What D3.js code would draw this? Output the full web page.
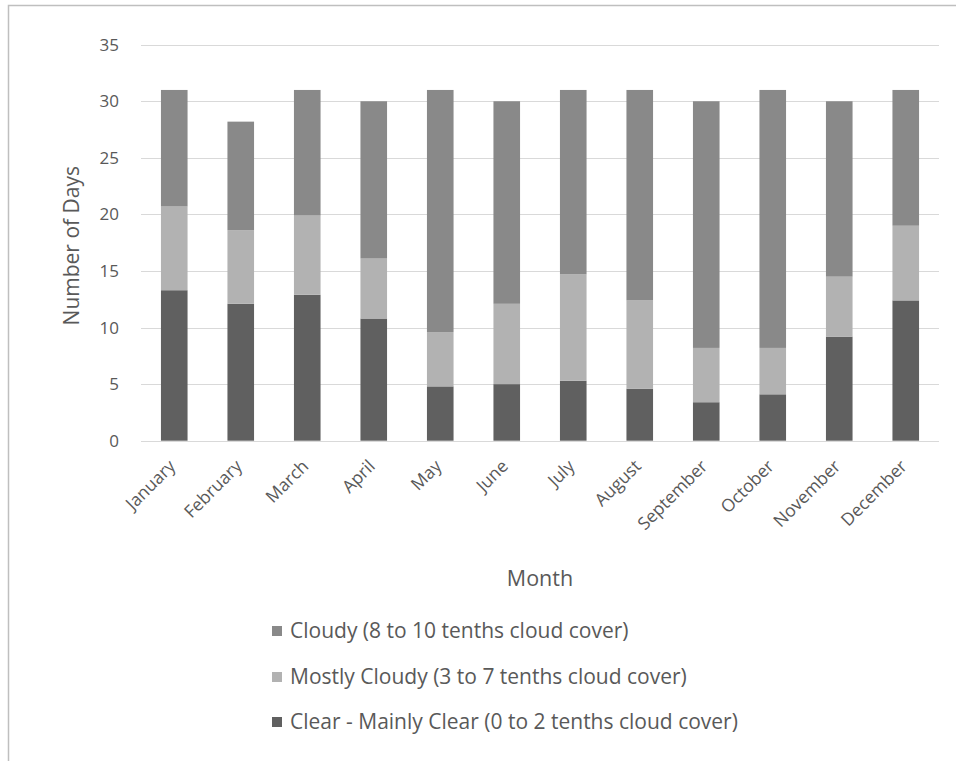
<!DOCTYPE html>
<html><head><meta charset="utf-8">
<script src="https://cdn.jsdelivr.net/npm/d3@7/dist/d3.min.js"></script>
<style>body{margin:0;background:#fff}svg{display:block}text{font-family:"Open Sans",Lato,sans-serif;fill:#595959}</style>
</head><body>
<svg id="c" width="956" height="761"></svg>
<script>
const months = ["January","February","March","April","May","June","July","August","September","October","November","December"];
const clear = [13.3, 12.1, 12.9, 10.8, 4.8, 5.0, 5.3, 4.6, 3.4, 4.1, 9.2, 12.4];
const mostlyCloudy = [7.4, 6.5, 7.0, 5.3, 4.8, 7.1, 9.4, 7.8, 4.8, 4.1, 5.3, 6.6];
const cloudy = [10.3, 9.6, 11.1, 13.9, 21.4, 17.9, 16.3, 18.6, 21.8, 22.8, 15.5, 12.0];
const seriesNames = ["Clear - Mainly Clear (0 to 2 tenths cloud cover)","Mostly Cloudy (3 to 7 tenths cloud cover)","Cloudy (8 to 10 tenths cloud cover)"];
const seriesColors = ["#606060","#b2b2b2","#898989"];
const yTicks = [0,5,10,15,20,25,30,35];

const svg = d3.select("#c");
// outer frame
svg.append("rect").attr("x",8.5).attr("y",5.5).attr("width",1000).attr("height",1000)
  .attr("fill","none").attr("stroke","#bfbfbf").attr("stroke-width",1.5);

const L=141, R=939, T=44.7, B=440.7;
const x = d3.scaleBand().domain(months).range([L,R]).paddingInner(0.6).paddingOuter(0.3);
const y = d3.scaleLinear().domain([0,35]).range([B,T]);

// gridlines
svg.append("g").selectAll("line").data(yTicks).join("line")
  .attr("x1",L).attr("x2",R).attr("y1",d=>Math.round(y(d))+0.5).attr("y2",d=>Math.round(y(d))+0.5)
  .attr("stroke","#d9d9d9").attr("stroke-width",1);

// y axis labels
const yAxis = d3.axisLeft(y).tickValues(yTicks).tickSize(0).tickPadding(22);
const ga = svg.append("g").attr("transform",`translate(${L},0)`).call(yAxis);
ga.select(".domain").remove();
ga.selectAll("text").style("font-size","17px").attr("fill","#595959").style("font-family","'Open Sans',sans-serif");

// stacked bars
const table = months.map((m,i)=>({month:m, clear:clear[i], mostly:mostlyCloudy[i], cloudy:cloudy[i]}));
const stack = d3.stack().keys(["clear","mostly","cloudy"])(table);
svg.append("g").selectAll("g").data(stack).join("g").attr("fill",(d,i)=>seriesColors[i])
  .selectAll("rect").data(d=>d).join("rect")
  .attr("x",d=>x(d.data.month)).attr("width",x.bandwidth())
  .attr("y",d=>y(d[1])).attr("height",d=>y(d[0])-y(d[1]));

// x axis line
svg.append("line").attr("x1",L).attr("x2",R).attr("y1",Math.round(B)+0.5).attr("y2",Math.round(B)+0.5)
  .attr("stroke","#d9d9d9");

// x labels
svg.append("g").selectAll("text").data(months).join("text")
  .attr("transform",d=>`translate(${x(d)+x.bandwidth()/2-2},${463}) rotate(-45)`)
  .attr("text-anchor","end").attr("dy","0.35em").style("font-size","17.5px").text(d=>d);

// axis titles
svg.append("text").attr("x",(L+R)/2).attr("y",578).attr("dy","0.35em").attr("text-anchor","middle")
  .style("font-size","21.5px").text("Month");
svg.append("text").attr("transform",`translate(72,${(T+B)/2+3}) rotate(-90)`).attr("dy","0.35em")
  .attr("text-anchor","middle").style("font-size","21px").text("Number of Days");

// legend (reverse order)
const legY = [631,677,722];
const lg = svg.append("g").selectAll("g").data([2,1,0]).join("g")
  .attr("transform",(d,i)=>`translate(272,${legY[i]})`);
lg.append("rect").attr("x",0).attr("y",-5).attr("width",10).attr("height",10).attr("fill",d=>seriesColors[d]);
lg.append("text").attr("x",18).attr("dy","0.35em").style("font-size","21px").text(d=>seriesNames[d]);
</script>
</body></html>
